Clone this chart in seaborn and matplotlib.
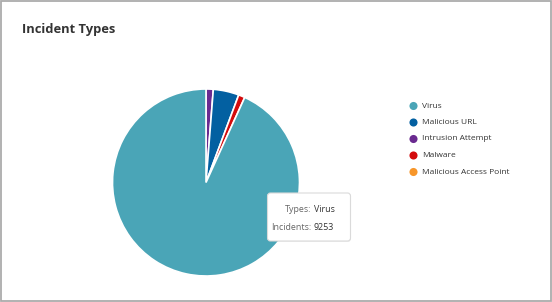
import matplotlib
matplotlib.use("Agg")
import matplotlib.pyplot as plt
from matplotlib.patches import Rectangle, FancyBboxPatch
import seaborn as sns

# ---- data ----
categories = ["Virus", "Malicious URL", "Intrusion Attempt", "Malware", "Malicious Access Point"]
incidents = [9253, 441, 124, 110, 0]
colors = ["#4aa5b7", "#0360a1", "#6a2a90", "#d30b0d", "#f7962a"]
# order of slices clockwise from 12 o'clock as drawn in the reference
draw_order = ["Intrusion Attempt", "Malicious URL", "Malware", "Virus"]
title = "Incident Types"
tooltip_category = "Virus"

sns.set_theme(style="white")
plt.rcParams["font.family"] = ["Open Sans", "DejaVu Sans"]

W, H = 552, 302
fig = plt.figure(figsize=(W / 100, H / 100), dpi=100)
fig.patch.set_facecolor("white")

# pie axes (center ~ (206,182.5), radius ~93.5 px)
cx, cy, r = 206, 182.5, 93.5
pad = 4
ax = fig.add_axes([(cx - r - pad) / W, (H - cy - r - pad) / H, (2 * r + 2 * pad) / W, (2 * r + 2 * pad) / H])
lookup = dict(zip(categories, incidents))
cmap = dict(zip(categories, colors))
vals = [lookup[c] for c in draw_order]
cols = [cmap[c] for c in draw_order]
ax.pie(vals, colors=cols, startangle=90, counterclock=False, radius=1,
       wedgeprops=dict(edgecolor="white", linewidth=1.2))
lim = 1 + pad / r
ax.set_xlim(-lim, lim)
ax.set_ylim(-lim, lim)
ax.set_aspect("equal")
ax.axis("off")

# overlay in pixel coords
ov = fig.add_axes([0, 0, 1, 1], zorder=5)
ov.set_xlim(0, W)
ov.set_ylim(H, 0)
ov.axis("off")
ov.patch.set_alpha(0)

# border
ov.add_patch(Rectangle((0.5, 0.5), W - 1.5, H - 1.5, fill=False, edgecolor="#ababab", linewidth=1.3))

# title
ov.text(22, 30, title, fontsize=9.3, fontweight="bold", color="#333333", va="center", ha="left")

# legend
ys = [106, 122.5, 139, 155.5, 172]
for cat, col, y in zip(categories, colors, ys):
    ov.scatter([413.5], [y], s=34, color=col, edgecolors="none")
    ov.text(422, y, cat, fontsize=6.0, color="#333333", va="center", ha="left")

# tooltip
ov.add_patch(FancyBboxPatch((269, 195), 82, 47, boxstyle="round,pad=0,rounding_size=3",
                            facecolor="#000000", alpha=0.06, edgecolor="none"))
ov.add_patch(FancyBboxPatch((267.5, 193), 83, 48, boxstyle="round,pad=0,rounding_size=3",
                            facecolor="white", edgecolor="#dadada", linewidth=0.8))
ov.text(311, 210, "Types:", fontsize=6.4, color="#666666", ha="right", va="center")
ov.text(314, 210, tooltip_category, fontsize=6.4, color="#333333", ha="left", va="center")
ov.text(311, 227, "Incidents:", fontsize=6.4, color="#666666", ha="right", va="center")
ov.text(314, 227, str(lookup[tooltip_category]), fontsize=6.4, color="#333333", ha="left", va="center")

fig.savefig("out.png", dpi=100, facecolor="white")
